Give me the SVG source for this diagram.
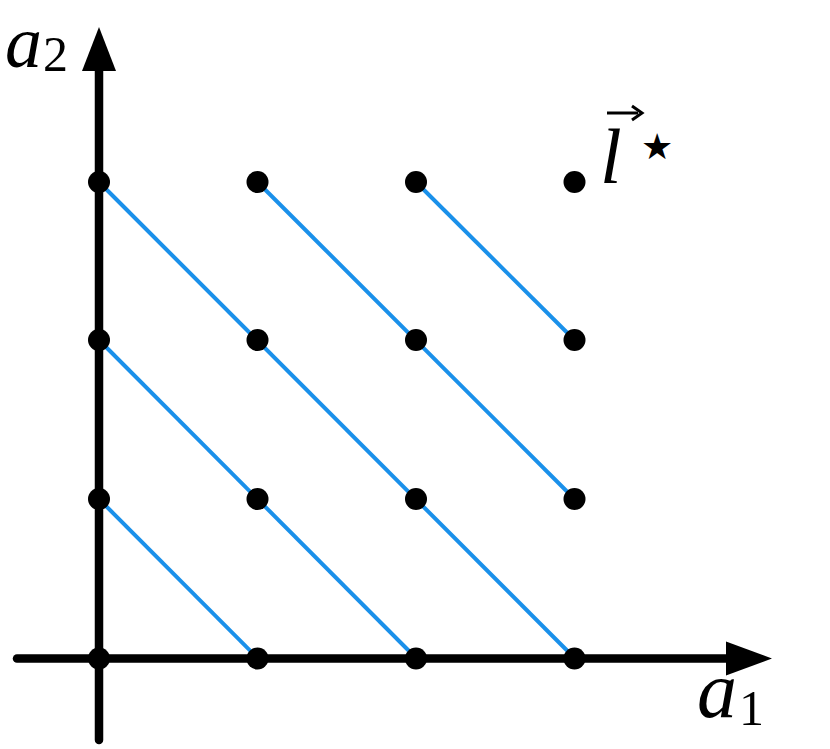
<svg xmlns="http://www.w3.org/2000/svg" width="830" height="749" viewBox="0 0 830 749">
<style>
.axis{stroke:#000;stroke-width:8.5;stroke-linecap:round;fill:none}
.blue{stroke:#1a90ea;stroke-width:4;fill:none}
.dot{fill:#000}
.lab{font-family:"Liberation Serif",serif;font-style:italic;fill:#000}
.sub{font-family:"Liberation Serif",serif;fill:#000}
</style>
<rect width="830" height="749" fill="#fff"/>
<g id="connectors">
<line class="blue" x1="99" y1="182" x2="574.5" y2="658"/>
<line class="blue" x1="99" y1="340" x2="416" y2="658"/>
<line class="blue" x1="99" y1="499" x2="257.5" y2="658"/>
<line class="blue" x1="257.5" y1="182" x2="574.5" y2="499"/>
<line class="blue" x1="416" y1="182" x2="574.5" y2="340"/>
</g>
<g id="axes">
<line class="axis" x1="99" y1="740" x2="99" y2="68"/>
<polygon points="99,27 82,71 116,71" fill="#000"/>
<line class="axis" x1="17" y1="658.5" x2="730" y2="658.5"/>
<polygon points="772,658.5 726,641.5 726,675.5" fill="#000"/>
</g>
<g id="dots">
<circle class="dot" cx="99" cy="182" r="11"/>
<circle class="dot" cx="257.5" cy="182" r="11"/>
<circle class="dot" cx="416" cy="182" r="11"/>
<circle class="dot" cx="574.5" cy="182" r="11"/>
<circle class="dot" cx="99" cy="340" r="11"/>
<circle class="dot" cx="257.5" cy="340" r="11"/>
<circle class="dot" cx="416" cy="340" r="11"/>
<circle class="dot" cx="574.5" cy="340" r="11"/>
<circle class="dot" cx="99" cy="499" r="11"/>
<circle class="dot" cx="257.5" cy="499" r="11"/>
<circle class="dot" cx="416" cy="499" r="11"/>
<circle class="dot" cx="574.5" cy="499" r="11"/>
<circle class="dot" cx="99" cy="658.5" r="11"/>
<circle class="dot" cx="257.5" cy="658.5" r="11"/>
<circle class="dot" cx="416" cy="658.5" r="11"/>
<circle class="dot" cx="574.5" cy="658.5" r="11"/>
</g>
<g id="label-a2">
<text class="lab" x="5" y="67" font-size="74">a</text>
<text class="sub" x="43" y="71" font-size="50">2</text>
</g>
<g id="label-a1">
<text class="lab" x="697" y="717" font-size="80">a</text>
<text class="sub" x="739" y="725" font-size="50">1</text>
</g>
<g id="label-l">
<text class="lab" x="600" y="183" font-size="78">l</text>
<path d="M607,113 H638" stroke="#000" stroke-width="3" fill="none"/>
<path d="M632,106 L642,113 L632,120" stroke="#000" stroke-width="3" fill="none"/>
<text x="641" y="159" font-family="DejaVu Sans,sans-serif" font-size="36" fill="#000">★</text>
</g>
</svg>
